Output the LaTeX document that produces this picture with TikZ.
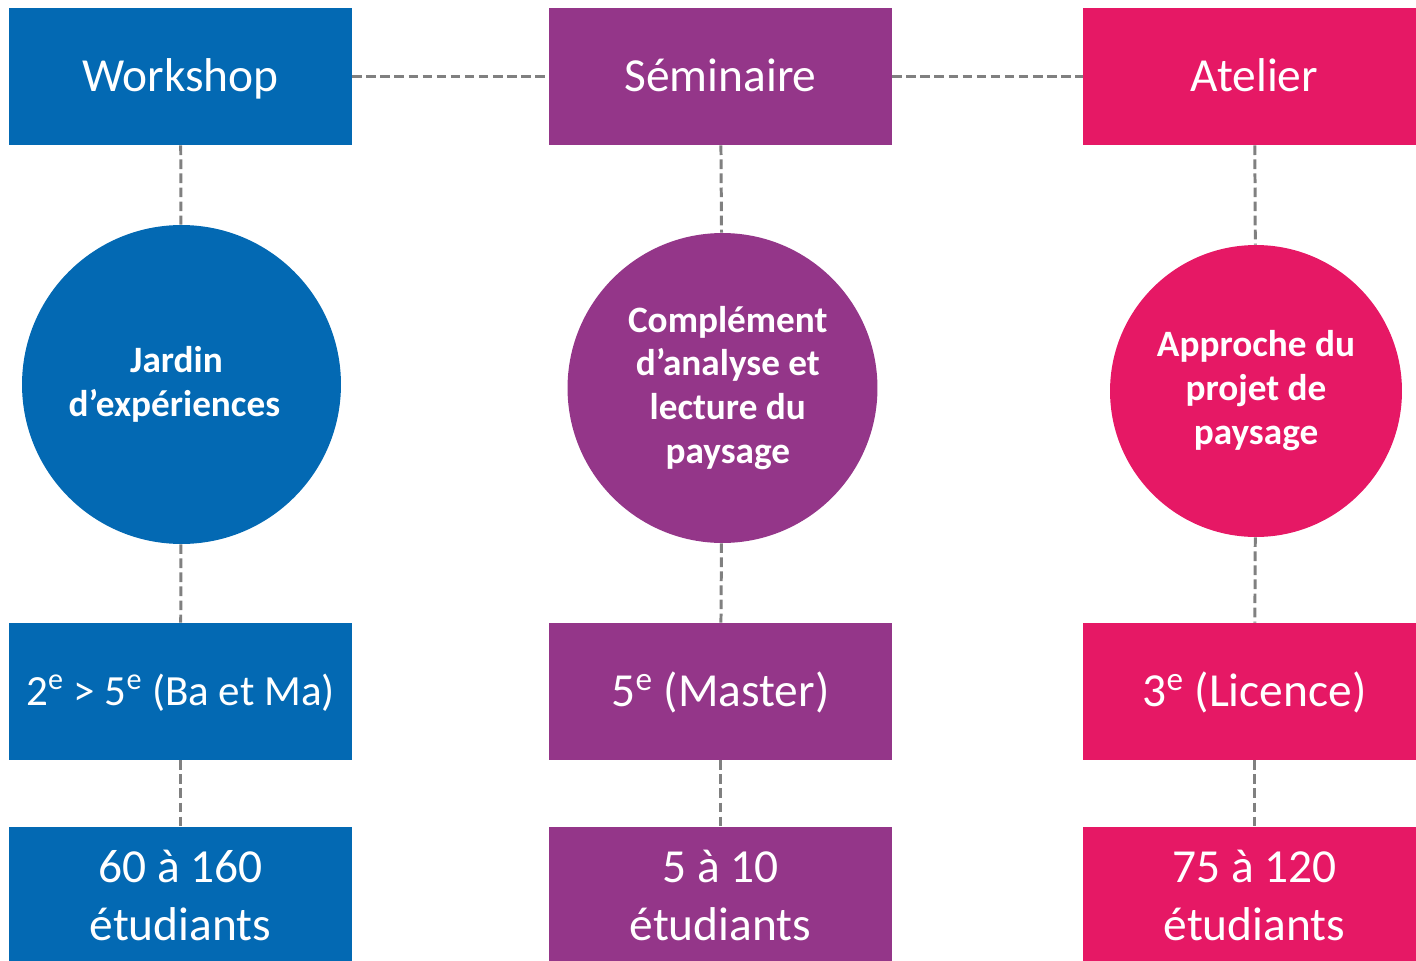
\documentclass[tikz,border=0pt]{standalone}
\usepackage{fontspec}
\setmainfont{Carlito}
\usepackage{xcolor}
\usetikzlibrary{positioning}
\usetikzlibrary{math}

\definecolor{wsblue}{RGB}{3,105,179}
\definecolor{sempurple}{RGB}{148,54,137}
\definecolor{atpink}{RGB}{230,24,101}
\definecolor{linkgray}{RGB}{128,128,128}

\begin{document}
\begin{tikzpicture}[x=0.02cm,y=-0.02cm,
    box/.style={rectangle,minimum width=6.86cm,minimum height=2.74cm,inner sep=0pt,
      text=white,align=center,font=\fontsize{27}{32.5}\selectfont},
    oneline/.style={text height=17.4pt,text depth=0pt},
    disc/.style={circle,inner sep=0pt,text=white,align=center,
      font=\bfseries\fontsize{21.2}{25}\selectfont},
    link/.style={linkgray,line width=1.7pt,dash pattern=on 5.5pt off 2.5pt}]

  \tikzmath{
    \colA = 180.5;  % centre of the workshop column
    \colB = 720.5;  % centre of the seminaire column
    \colC = 1254.5; % centre of the atelier column
    \rowtop = 76.5; % row of the titles
    \rowlvl = 691.5; % row of the levels
    \rownum = 895.5; % row of the numbers of students
  }

  % frame of the picture
  \clip (0,0) rectangle (1416,960);

  % titles
  \node[box,oneline,fill=wsblue] (workshop) at (\colA,\rowtop) {Workshop};
  \node[box,oneline,fill=sempurple] (seminaire) at (\colB,\rowtop) {Séminaire};
  \node[box,oneline,fill=atpink] (atelier) at (\colC,\rowtop) {Atelier};

  % contents
  \node[disc,fill=wsblue,minimum size=6.38cm] (jardin) at (181.5,384.5)
    {Jardin\hspace*{5.7pt}\\d’expériences\hspace*{8pt}};
  \node[disc,fill=sempurple,minimum size=6.2cm] (complement) at (722.5,388)
    {\hspace*{6pt}Complément\\\hspace*{6pt}d’analyse et\\\hspace*{6pt}lecture du\\\hspace*{6pt}paysage};
  \node[disc,fill=atpink,minimum size=5.84cm] (approche) at (1256,391)
    {Approche du\\projet de\\paysage};

  % levels
  \node[box,oneline,fill=wsblue,font=\fontsize{24.5}{30}\selectfont,text height=15.8pt]
    (niveauA) at (\colA,\rowlvl) {2\textsuperscript{e} > 5\textsuperscript{e} (Ba et Ma)};
  \node[box,oneline,fill=sempurple] (niveauB) at (\colB,\rowlvl)
    {5\textsuperscript{e} (Master)};
  \node[box,oneline,fill=atpink] (niveauC) at (\colC,\rowlvl)
    {3\textsuperscript{e} (Licence)};

  % numbers of students
  \node[box,fill=wsblue] (effectifA) at (\colA,\rownum) {60 à 160\\étudiants};
  \node[box,fill=sempurple] (effectifB) at (\colB,\rownum) {5 à 10\\étudiants};
  \node[box,fill=atpink] (effectifC) at (\colC,\rownum) {75 à 120\\étudiants};

  % dashed links
  \draw[link] (workshop) -- (seminaire);
  \draw[link] (seminaire) -- (atelier);
  \draw[link] (workshop) -- (jardin);
  \draw[link] (jardin) -- (niveauA);
  \draw[link] (niveauA) -- (effectifA);
  \draw[link] (seminaire) -- (complement);
  \draw[link] (complement) -- (niveauB);
  \draw[link] (niveauB) -- (effectifB);
  \draw[link] (atelier) -- (approche);
  \draw[link] (approche) -- (niveauC);
  \draw[link] (niveauC) -- (effectifC);

\end{tikzpicture}
\end{document}
